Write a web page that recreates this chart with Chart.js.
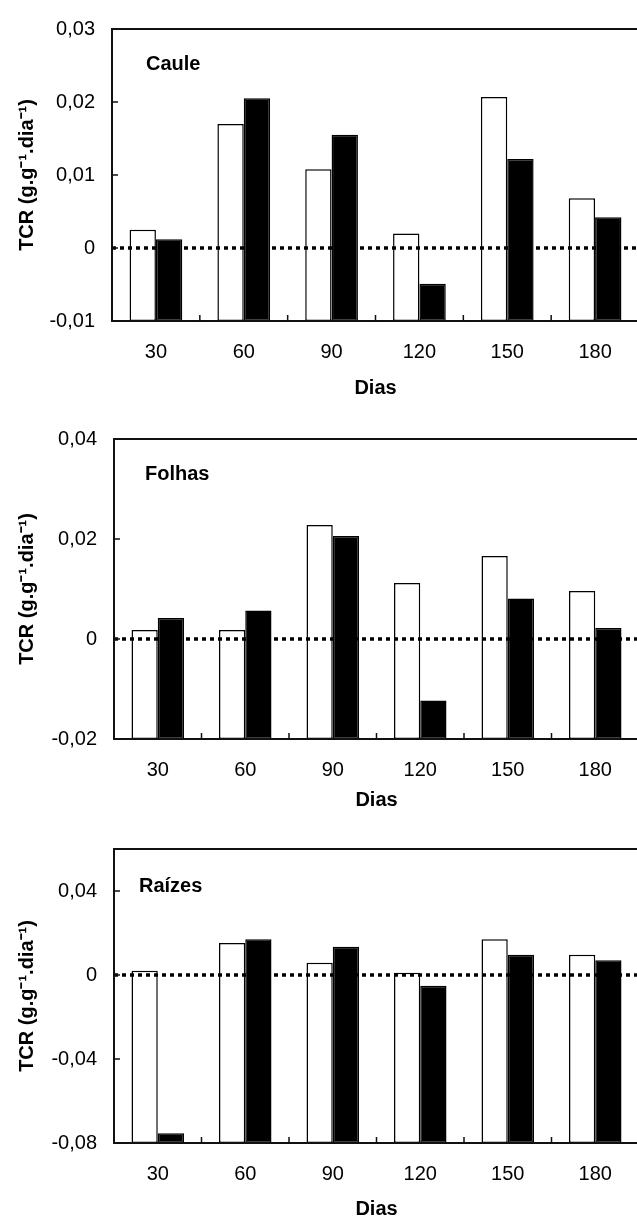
<!DOCTYPE html>
<html><head><meta charset="utf-8">
<script src="https://cdn.jsdelivr.net/npm/chart.js@4.4.1/dist/chart.umd.min.js"></script>
<style>
html,body{margin:0;padding:0;background:#fff;overflow:hidden;}
#wrap{position:relative;width:637px;height:1222px;overflow:hidden;background:#fff;}
.c{position:absolute;left:0;width:660px;}
</style></head><body>
<div id="wrap">
<div class="c" style="top:0;height:410px"><canvas id="c1"></canvas></div>
<div class="c" style="top:410px;height:410px"><canvas id="c2"></canvas></div>
<div class="c" style="top:820px;height:402px"><canvas id="c3"></canvas></div>
</div>
<script>
const categories = ['30', '60', '90', '120', '150', '180'];

const cauleWhite = [0.0025, 0.0170, 0.0108, 0.0020, 0.0207, 0.0068];
const cauleBlack = [0.0012, 0.0205, 0.0155, -0.0049, 0.0122, 0.0042];
const folhasWhite = [0.0018, 0.0018, 0.0228, 0.0112, 0.0166, 0.0096];
const folhasBlack = [0.0042, 0.0057, 0.0206, -0.0123, 0.0081, 0.0022];
const raizesWhite = [0.0020, 0.0152, 0.0058, 0.0011, 0.0170, 0.0096];
const raizesBlack = [-0.0753, 0.0170, 0.0134, -0.0051, 0.0096, 0.0070];

const cauleTicks = [-0.01, 0, 0.01, 0.02, 0.03];
const cauleTickLabels = ['-0,01', '0', '0,01', '0,02', '0,03'];
const folhasTicks = [-0.02, 0, 0.02, 0.04];
const folhasTickLabels = ['-0,02', '0', '0,02', '0,04'];
const raizesTicks = [-0.08, -0.04, 0, 0.04];
const raizesTickLabels = ['-0,08', '-0,04', '0', '0,04'];

const panelNames = ['Caule', 'Folhas', 'Raízes'];
const xTitle = 'Dias';
const yTitle = 'TCR (g.g⁻¹.dia⁻¹)';

const FAMILY = '"Liberation Sans", Arial, Helvetica, sans-serif';

const framePlugin = {
  id: 'frame',
  afterDatasetsDraw(chart, args, opts) {
    const {ctx, chartArea: a, scales: {x, y}} = chart;
    ctx.save();
    // dotted zero line
    const y0 = y.getPixelForValue(0);
    ctx.strokeStyle = '#000';
    ctx.lineWidth = 3.5;
    ctx.setLineDash([4, 4]);
    ctx.beginPath();
    ctx.moveTo(a.left, y0);
    ctx.lineTo(a.right + 10, y0);
    ctx.stroke();
    ctx.setLineDash([]);
    // frame
    ctx.lineWidth = 2;
    ctx.strokeStyle = '#111';
    ctx.beginPath();
    ctx.moveTo(a.right + 10, a.top);
    ctx.lineTo(a.left, a.top);
    ctx.lineTo(a.left, a.bottom);
    ctx.lineTo(a.right + 10, a.bottom);
    ctx.stroke();
    // inner tick marks
    ctx.lineWidth = 1.5;
    ctx.beginPath();
    const n = chart.data.labels.length;
    for (let i = 0; i < n - 1; i++) {
      const xb = (x.getPixelForValue(i) + x.getPixelForValue(i + 1)) / 2;
      ctx.moveTo(xb, a.bottom);
      ctx.lineTo(xb, a.bottom - 6);
    }
    const xe = x.getPixelForValue(n - 1) + (x.getPixelForValue(n - 1) - x.getPixelForValue(n - 2)) / 2;
    ctx.moveTo(xe, a.bottom);
    ctx.lineTo(xe, a.bottom - 6);
    y.ticks.forEach(t => {
      const py = y.getPixelForValue(t.value);
      ctx.moveTo(a.left, py);
      ctx.lineTo(a.left + 6, py);
    });
    ctx.stroke();
    // panel label
    ctx.font = 'bold 20px ' + FAMILY;
    ctx.fillStyle = '#000';
    ctx.textBaseline = 'alphabetic';
    ctx.textAlign = 'left';
    ctx.fillText(opts.text, a.left + opts.dx, a.top + opts.dy);
    ctx.restore();
  }
};

function makeChart(id, white, black, yMin, yMax, tickVals, tickLabels, cfg) {
  return new Chart(document.getElementById(id), {
    type: 'bar',
    data: {
      labels: categories,
      datasets: [
        {data: white, backgroundColor: '#fff', borderColor: '#000', borderWidth: 1.5,
         base: yMin, categoryPercentage: 0.6, barPercentage: 1.0, borderSkipped: false},
        {data: black, backgroundColor: '#000', borderColor: '#000', borderWidth: 1.5,
         base: yMin, categoryPercentage: 0.6, barPercentage: 1.0, borderSkipped: false}
      ]
    },
    options: {
      responsive: true,
      maintainAspectRatio: false,
      devicePixelRatio: 1,
      animation: false,
      layout: {padding: {top: cfg.top, right: 21, left: 0, bottom: 0}},
      plugins: {
        legend: {display: false},
        tooltip: {enabled: false},
        frame: {text: cfg.name, dx: cfg.dx, dy: cfg.dy}
      },
      scales: {
        x: {
          type: 'category',
          grid: {display: false, drawTicks: false},
          border: {display: false},
          ticks: {color: '#000', font: {size: 20, family: FAMILY}, padding: 19, maxRotation: 0, autoSkip: false},
          title: {display: true, text: xTitle, color: '#000',
                  font: {size: 20, weight: 'bold', family: FAMILY},
                  padding: {top: 0, bottom: cfg.pb}},
          afterFit(s) { s.height = cfg.xh; }
        },
        y: {
          min: yMin, max: yMax,
          grid: {display: false, drawTicks: false},
          border: {display: false},
          afterBuildTicks(s) { s.ticks = tickVals.map(v => ({value: v})); },
          ticks: {color: '#000', font: {size: 20, family: FAMILY}, padding: 17,
                  callback: (v, i) => tickLabels[i]},
          title: {display: true, text: yTitle, color: '#000',
                  font: {size: 20, weight: 'bold', family: FAMILY},
                  padding: {top: 15, bottom: 0}},
          afterFit(s) { s.width = cfg.yw; }
        }
      }
    },
    plugins: [framePlugin]
  });
}

makeChart('c1', cauleWhite, cauleBlack, -0.01, 0.03, cauleTicks, cauleTickLabels,
  {name: panelNames[0], top: 25, xh: 89, pb: 10, yw: 112, dx: 34, dy: 41});
makeChart('c2', folhasWhite, folhasBlack, -0.02, 0.04, folhasTicks, folhasTickLabels,
  {name: panelNames[1], top: 28, xh: 81, pb: 7.5, yw: 114, dx: 31, dy: 40.5});
makeChart('c3', raizesWhite, raizesBlack, -0.08, 0.06, raizesTicks, raizesTickLabels,
  {name: panelNames[2], top: 26, xh: 79, pb: 1, yw: 114, dx: 25, dy: 42.5});
</script>
</body></html>
